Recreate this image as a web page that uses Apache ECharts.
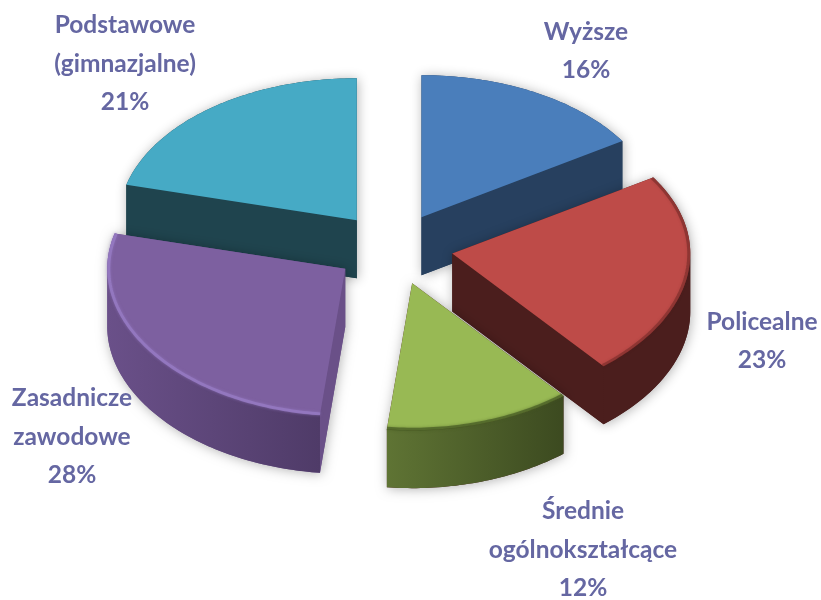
<!DOCTYPE html>
<html><head><meta charset="utf-8">
<style>html,body{margin:0;background:#fff}#c{width:821px;height:600px;filter:blur(.45px)}</style>
<script src="https://cdn.jsdelivr.net/npm/echarts@6/dist/echarts.min.js"></script>
</head><body><div id="c"></div>
<script>
const categories = ['Wyższe', 'Policealne', 'Średnie\nogólnokształcące', 'Zasadnicze\nzawodowe', 'Podstawowe\n(gimnazjalne)'];
const shares = [16, 23, 12, 28, 21];

const topColors = ['#4a7ebb', '#be4b48', '#98b954', '#7d60a0', '#46aac5'];
const cutColors = ['#27405f', '#4b1e1d', '#4b1e1d', '#6a5088', '#1f444e'];
const rimStops = [['#27405f', '#27405f'], ['#4b1e1d', '#4b1e1d'], ['#5f7434', '#3c4a20'], ['#6a5089', '#4f3b68'], ['#1f444e', '#1f444e']];
const bevelColors = [null, 'rgba(90,30,28,.4)', 'rgba(70,90,35,.7)', 'rgba(150,122,195,.8)', null];
const paintOrder = [0, 4, 1, 3, 2];
const explode = [59, 60, 62, 59, 59];
const labelCentres = [[586, 51], [762, 341], [583, 550], [72, 437], [125, 64]];

const CX = 393, CY = 248, RX = 238, RY = 142, DEPTH = 58, LINE = 38.5;
const NEAR_STRETCH = .035;                 // the near edge of the disc is slightly enlarged by the 3D view
const VIEW_SKEW = 2.5, VIEW_AT = 184, VIEW_SPREAD = 25; // angular distortion of the 3D view near the front
const total = shares.reduce((a, b) => a + b, 0);
const RAD = Math.PI / 180;

function hull(pts) {
  const p = pts.slice().sort((a, b) => a[0] - b[0] || a[1] - b[1]);
  const cross = (o, a, b) => (a[0] - o[0]) * (b[1] - o[1]) - (a[1] - o[1]) * (b[0] - o[0]);
  const half = list => {
    const out = [];
    for (const q of list) {
      while (out.length > 1 && cross(out[out.length - 2], out[out.length - 1], q) <= 0) out.pop();
      out.push(q);
    }
    out.pop();
    return out;
  };
  return half(p).concat(half(p.reverse()));
}

function renderItem(params, api) {
  const i = params.dataIndex;
  const value = api.value(0);
  let before = 0;
  for (let k = 0; k < i; k++) before += shares[k];
  const a0 = before / total * 360, a1 = (before + value) / total * 360;
  const mid = (a0 + a1) / 2 * RAD;
  const ax = CX + explode[i] * Math.sin(mid);
  const ay = CY - explode[i] * Math.cos(mid) * RY / RX;
  const at = (deg, inset, drop) => {
    const x = (deg - VIEW_AT) / VIEW_SPREAD;
    const phi = (deg + VIEW_SKEW * Math.exp(-x * x)) * RAD;
    const v = -Math.cos(phi);
    return [
      ax + (RX - inset) * Math.sin(phi),
      ay + (RY - inset * .6) * v * (v > 0 ? 1 + NEAR_STRETCH * v : 1) + drop
    ];
  };
  const arc = (from, to, inset, drop) => {
    const pts = [];
    const n = Math.max(2, Math.ceil(to - from));
    for (let s = 0; s <= n; s++) pts.push(at(from + (to - from) * s / n, inset, drop));
    return pts;
  };
  const topPts = [[ax, ay]].concat(arc(a0, a1, 0, 0));
  const basePts = [[ax, ay + DEPTH]].concat(arc(a0, a1, 0, DEPTH));
  const base = paintOrder.indexOf(i) * 10;
  const children = [];

  children.push({
    type: 'polygon', z2: base, shape: { points: hull(topPts.concat(basePts)) },
    style: { fill: cutColors[i], shadowColor: 'rgba(0,0,0,.30)', shadowBlur: 12, shadowOffsetX: 1, shadowOffsetY: 1 }
  });
  const cut = deg => ({
    type: 'polygon', z2: base + 1,
    shape: { points: [[ax, ay], at(deg, 0, 0), at(deg, 0, DEPTH), [ax, ay + DEPTH]] },
    style: { fill: cutColors[i] }
  });
  if (Math.sin(a0 * RAD) < -1e-6) children.push(cut(a0));
  if (Math.sin(a1 * RAD) > 1e-6) children.push(cut(a1));

  const r0 = Math.max(a0, 90), r1 = Math.min(a1, 270);
  if (r1 > r0) {
    const upper = arc(r0, r1, 0, 0), lower = arc(r0, r1, 0, DEPTH).reverse();
    const stops = rimStops[i];
    children.push({
      type: 'polygon', z2: base + 2, shape: { points: upper.concat(lower) },
      style: {
        fill: new echarts.graphic.LinearGradient(0, 0, 1, 0, [
          { offset: 0, color: stops[0] },
          { offset: 1, color: stops[1] }
        ])
      }
    });
  }
  children.push({
    type: 'polygon', z2: base + 3, shape: { points: topPts },
    style: { fill: topColors[i] }
  });
  if (bevelColors[i]) {
    children.push({
      type: 'polyline', z2: base + 4, shape: { points: arc(a0, a1, 1.5, 0) },
      style: { fill: 'none', stroke: bevelColors[i], lineWidth: 3, shadowColor: bevelColors[i], shadowBlur: 3 }
    });
  }
  children.push({
    type: 'text', z2: 100,
    style: {
      x: labelCentres[i][0], y: labelCentres[i][1],
      text: categories[i] + '\n' + value + '%',
      align: 'center', verticalAlign: 'middle',
      font: 'bold 24.5px Lato, "Open Sans", sans-serif',
      lineHeight: LINE, fill: '#6567a2'
    }
  });
  return { type: 'group', children };
}

const chart = echarts.init(document.getElementById('c'), null, { renderer: 'canvas' });
chart.setOption({
  animation: false,
  backgroundColor: '#ffffff',
  series: [{
    type: 'custom',
    coordinateSystem: 'none',
    renderItem,
    data: shares.map((v, i) => ({ name: categories[i], value: [v] }))
  }]
});
</script></body></html>
